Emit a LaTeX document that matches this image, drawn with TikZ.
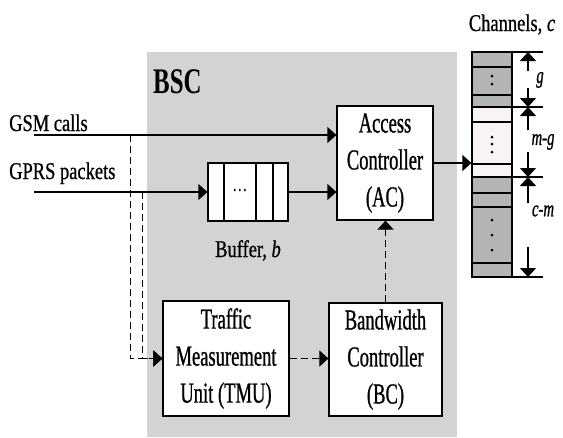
\documentclass[tikz,border=0pt]{standalone}
\usepackage{fontspec}
\setmainfont{Liberation Serif}[FakeStretch=0.69]
\newfontfamily\boxfont{Liberation Serif}[FakeStretch=0.64, FakeBold=0.8]
\newfontfamily\lblfont{Liberation Serif}[FakeStretch=0.77, FakeBold=0.8]
\usepackage{tikz}
\usetikzlibrary{arrows.meta, positioning}
\definecolor{bsc}{HTML}{D3D3D3}
\definecolor{chgray}{HTML}{B4B4B4}
\definecolor{chlight}{HTML}{F7F3F7}

\begin{document}
\begin{tikzpicture}[
                  x=1pt, y=-1pt,
                  box/.style={
                              draw, line width=1.2pt, fill=white, inner sep=0pt, align=center,
                              font=\boxfont\fontsize{29}{37}\selectfont
                        },
                  lbl/.style={font=\lblfont\fontsize{24}{28}\selectfont, inner sep=0pt},
                  dimlbl/.style={font=\boxfont\fontsize{23}{26}\selectfont\itshape, inner sep=0pt},
                  arrow/.style={-{Triangle[length=9pt,width=16pt]}, line width=1.3pt},
                  dasharrow/.style={arrow, line width=1pt, dash pattern=on 7pt off 4pt},
            ]
            \useasboundingbox (0,0) rectangle (563,437);

            % BSC area
            \fill[bsc] (147,52) rectangle (457,437);
            \node[anchor=base west, inner sep=0pt, font=\fontsize{36}{40}\selectfont\bfseries] (bsclbl) at (153,93) {BSC};

            \node[box, minimum width=96pt, minimum height=114pt] (ac) at (385,163) {Access\\Controller\\(AC)};
            \node[box, minimum width=80pt, minimum height=58pt] (buffer) at (248,192) {};
            \node[box, minimum width=126pt, minimum height=115pt] (tmu) at (226,358.5) {Traffic\\Measurement\\Unit (TMU)};
            \node[box, minimum width=113pt, minimum height=113pt] (bc) at (385.5,359.5) {Bandwidth\\Controller\\(BC)};

            % Buffer cells
            \foreach \x in {224,256,273}
                  \draw[line width=1.2pt] (\x,163) -- (\x,221);
            \node[font=\fontsize{22}{24}\selectfont] (dots) at (240,191) {\dots};
            \node[lbl, anchor=base] (buflbl) at (248,257) {Buffer, \textit{b}};

            % Inputs
            \coordinate (gsm) at (34,135);
            \coordinate (gprs) at (34,192);
            \node[lbl, anchor=base west] (gsmlbl) at (9,131) {GSM calls};
            \node[lbl, anchor=base west] (gprslbl) at (9,179) {GPRS packets};
            \draw[arrow] (gsm) -- (gsm -| ac.west);
            \draw[arrow] (gprs) -- (buffer.west);
            \draw[arrow] (buffer.east) -- (buffer.east -| ac.west);

            % Measurement path
            \coordinate (tapgsm) at (130,135);
            \coordinate (tapgprs) at (142,192);
            \draw[dasharrow] (tapgsm) |- (tmu.west);
            \draw[dasharrow] (tapgprs) |- (tmu.west);
            \draw[dasharrow] (tmu.east) -- (tmu.east -| bc.west);
            \draw[dasharrow] (bc.north) -- (bc.north |- ac.south);

            % Channels
            \fill[chgray] (472,52) rectangle (512,107);
            \fill[chlight] (472,107) rectangle (512,177);
            \fill[chgray] (472,177) rectangle (512,277);
            \node[draw, line width=1.2pt, inner sep=0pt, minimum width=40pt, minimum height=225pt] (chan) at (492,164.5) {};
            \foreach \y in {67,95,107,122,164,177,193,207,263}
                  \draw[line width=1.2pt] (472,\y) -- (512,\y);
            \foreach \y in {76,84,137,144,152,220,235,250}
                  \fill (492,\y) circle (1.5pt);
            \node[lbl, anchor=base] (chanlbl) at (512,31) {Channels, \textit{c}};
            \draw[arrow] (ac.east) -- (ac.east -| chan.west);

            % Channel dimensions
            \foreach \y in {52,107,177,277}
                  \draw[line width=1.2pt] (512,\y) -- (543,\y);
            \node[dimlbl] (glbl) at (540,80) {g};
            \node[dimlbl] (mglbl) at (543,142) {m-g};
            \node[dimlbl] (cmlbl) at (543,211) {c-m};
            \draw[arrow] (528,71) -- (528,52);
            \draw[arrow] (528,88) -- (528,107);
            \draw[arrow] (528,130) -- (528,107);
            \draw[arrow] (528,152) -- (528,177);
            \draw[arrow] (528,203) -- (528,177);
            \draw[arrow] (528,247) -- (528,277);
      \end{tikzpicture}
\end{document}
